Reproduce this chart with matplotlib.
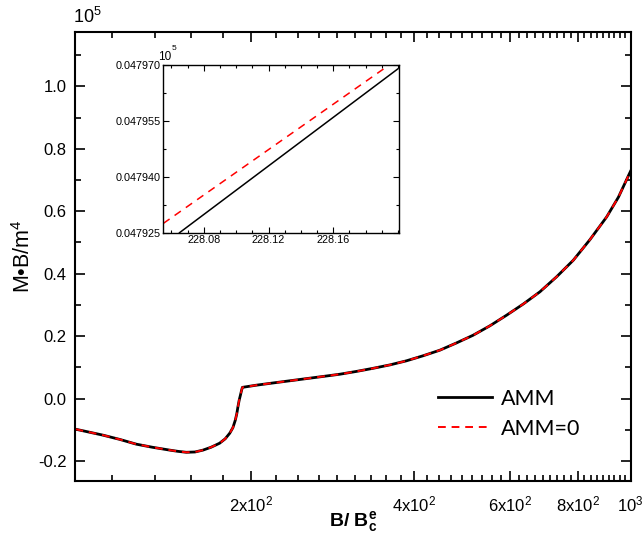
import numpy as np
import matplotlib
matplotlib.use("Agg")
import matplotlib.pyplot as plt
from matplotlib.ticker import FixedLocator, FixedFormatter, MultipleLocator, FormatStrFormatter, NullFormatter

plt.rcParams['font.family'] = ['Liberation Sans', 'DejaVu Sans']
plt.rcParams['mathtext.fontset'] = 'custom'
plt.rcParams['mathtext.rm'] = 'Liberation Sans'
plt.rcParams['mathtext.it'] = 'Liberation Sans'
plt.rcParams['mathtext.bf'] = 'Liberation Sans:bold'

# main curve, M*B/m^4 in units of 1e5
b_main = [95.2, 100.0, 106.9, 115.0, 123.2, 132.0, 141.9, 147.0, 152.3, 158.0,
          163.4, 169.0, 175.3, 179.5, 183.0, 185.5, 187.4, 188.6, 189.5, 190.5,
          191.5, 192.4, 193.1, 205.0, 219.8, 236.0, 253.3, 272.0, 291.7, 313.0,
          336.0, 361.0, 387.0, 415.0, 445.8, 478.0, 513.4, 551.0, 591.4, 635.0,
          681.2, 731.0, 784.6, 842.0, 904.0, 950.0, 1000.0]
amm_main = [-0.098, -0.106, -0.117, -0.131, -0.146, -0.156, -0.165, -0.169, -0.172, -0.171,
            -0.165, -0.156, -0.143, -0.129, -0.111, -0.093, -0.069, -0.048, -0.026, -0.005,
            0.011, 0.026, 0.036, 0.043, 0.050, 0.057, 0.064, 0.071, 0.078, 0.087,
            0.097, 0.108, 0.121, 0.137, 0.155, 0.178, 0.203, 0.233, 0.267, 0.303,
            0.342, 0.390, 0.443, 0.509, 0.582, 0.645, 0.728]
# AMM=0 is indistinguishable from AMM at this scale
amm0_main = list(amm_main)

# inset (zoom around B = 228.1)
b_inset_amm = [228.065, 228.200]
amm_inset = [0.047925, 0.047969]
b_inset_amm0 = [228.055, 228.1945]
amm0_inset = [0.0479275, 0.047970]

x_major = [200, 400, 600, 800, 1000]
x_major_labels = ['2x10$^{2}$', '4x10$^{2}$', '6x10$^{2}$', '8x10$^{2}$', '10$^{3}$']
x_minor = [111.1, 133.3, 155.6, 177.8,
           222.2, 244.4, 266.7, 288.9, 311.1, 333.3, 355.6, 377.8,
           422.2, 444.4, 466.7, 488.9, 511.1, 533.3, 555.6, 577.8,
           622.2, 644.4, 666.7, 688.9, 711.1, 733.3, 755.6, 777.8,
           822.2, 844.4, 866.7, 888.9, 911.1, 933.3, 955.6, 977.8]

fig = plt.figure(figsize=(6.42, 5.45), dpi=100)
ax = fig.add_axes([0.1168, 0.1174, 0.8653, 0.8238])

ax.plot(b_main, amm_main, color='black', lw=2.0, label='AMM')
ax.plot(b_main, amm0_main, color='red', lw=1.4, ls=(0, (4, 3)), label='AMM=0')

ax.set_xscale('log')
ax.set_xlim(95, 1000)
ax.set_ylim(-0.264, 1.174)

ax.xaxis.set_major_locator(FixedLocator(x_major))
ax.xaxis.set_major_formatter(FixedFormatter(x_major_labels))
ax.xaxis.set_minor_locator(FixedLocator(x_minor))
ax.xaxis.set_minor_formatter(NullFormatter())
ax.yaxis.set_major_locator(MultipleLocator(0.2))
ax.yaxis.set_minor_locator(MultipleLocator(0.1))
ax.yaxis.set_major_formatter(FormatStrFormatter('%.1f'))

ax.tick_params(which='both', direction='in', top=True, right=True, width=1.2, labelsize=12)
ax.tick_params(which='major', length=7)
ax.tick_params(which='minor', length=4)
ax.tick_params(axis='x', which='major', pad=10)
ax.tick_params(axis='y', which='major', pad=6)
for s in ax.spines.values():
    s.set_linewidth(1.5)

ax.text(-0.003, 1.012, '10$^{5}$', transform=ax.transAxes, fontsize=13, ha='left', va='bottom')

ax.set_ylabel('M\u2022B/m$^{4}$', fontsize=15.5)
ax.yaxis.set_label_coords(-0.072, 0.5)
ax.set_xlabel(r'B/ B$^{\mathbf{e}}_{\mathbf{c}}$', fontsize=14, fontweight='bold', labelpad=-4)

leg = ax.legend(loc='upper left', bbox_to_anchor=(0.6535, 0.205), frameon=False,
                handlelength=2.5, handletextpad=0.4, labelspacing=0.45, borderpad=0,
                borderaxespad=0, prop={'family': 'Lato', 'size': 15.5})

# inset
axi = fig.add_axes([0.2544, 0.573, 0.3671, 0.3077])
axi.plot(b_inset_amm, amm_inset, color='black', lw=1.1)
axi.plot(b_inset_amm0, amm0_inset, color='red', lw=1.1, ls=(0, (5, 4)))
axi.set_xlim(228.055, 228.2006)
axi.set_ylim(0.047925, 0.047970)
axi.xaxis.set_major_locator(FixedLocator([228.08, 228.12, 228.16]))
axi.xaxis.set_minor_locator(MultipleLocator(0.01))
axi.xaxis.set_major_formatter(FormatStrFormatter('%.2f'))
axi.yaxis.set_major_locator(FixedLocator([0.047925, 0.047940, 0.047955, 0.047970]))
axi.yaxis.set_minor_locator(MultipleLocator(0.0000075))
axi.yaxis.set_major_formatter(FormatStrFormatter('%.6f'))
axi.tick_params(which='both', direction='in', top=True, right=True, width=0.8, labelsize=7.8, pad=2)
axi.tick_params(which='major', length=4)
axi.tick_params(which='minor', length=2)
for s in axi.spines.values():
    s.set_linewidth(1.0)
axi.text(-0.023, 1.015, '10', transform=axi.transAxes, fontsize=8.5, ha='left', va='bottom')
axi.text(0.035, 1.075, '5', transform=axi.transAxes, fontsize=6, ha='left', va='bottom')

fig.savefig('out.png', dpi=100)
